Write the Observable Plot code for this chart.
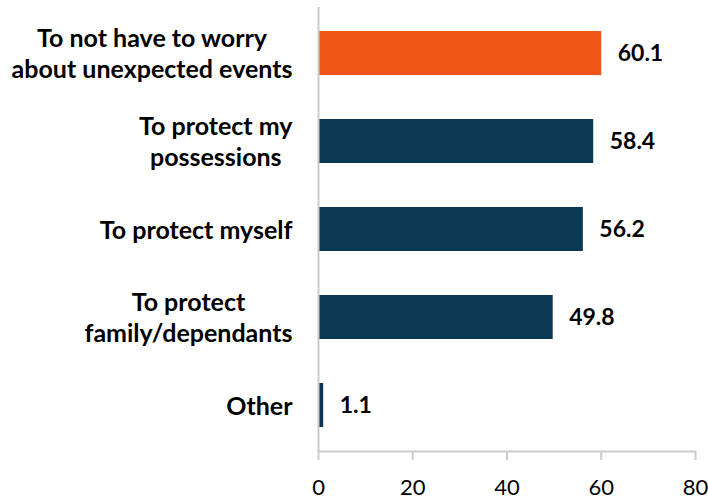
<!DOCTYPE html>
<html>
<head>
<meta charset="utf-8">
<script src="https://cdn.jsdelivr.net/npm/d3@7"></script>
<script src="https://cdn.jsdelivr.net/npm/@observablehq/plot@0.6"></script>
<style>
  html, body { margin: 0; padding: 0; background: #fff; }
  svg { display: block; }
</style>
</head>
<body>
<div id="chart"></div>
<script>
const categories = [
  "To not have to worry\nabout unexpected events",
  "To protect my\npossessions",
  "To protect myself",
  "To protect\nfamily/dependants",
  "Other"
];
const values = [60.1, 58.4, 56.2, 49.8, 1.1];
const xTicks = [0, 20, 40, 60, 80];
const highlight = categories[0];

const data = categories.map((c, i) => ({cat: c, value: values[i]}));

const FONT = "Lato, 'Open Sans', sans-serif";
const LABEL_SIZE = 25;
const ctx = document.createElement("canvas").getContext("2d");
ctx.font = `bold ${LABEL_SIZE}px Lato`;
const widest = s => Math.max(...s.split("\n").map(l => ctx.measureText(l).width));

const labelMarks = categories.map(c => Plot.text([c], {
  y: d => d,
  text: d => d,
  frameAnchor: "left",
  textAnchor: "middle",
  lineAnchor: "middle",
  lineHeight: 1.25,
  dx: -26 - widest(c) / 2,
  dy: -1,
  fontWeight: "bold",
  fontSize: LABEL_SIZE,
  fill: "#000"
}));

const chart = Plot.plot({
  width: 708,
  height: 501,
  marginLeft: 318,
  marginRight: 13,
  marginTop: 7,
  marginBottom: 50,
  style: {fontFamily: FONT, background: "#fff"},
  x: {domain: [0, 80], ticks: xTicks},
  y: {domain: categories, paddingInner: 0.5, paddingOuter: 0.25, axis: null},
  marks: [
    Plot.barX(data, {
      x: "value",
      y: "cat",
      fill: d => d.cat === highlight ? "#F15417" : "#0B3954"
    }),
    Plot.text(data, {
      x: "value",
      y: "cat",
      text: d => d.value.toFixed(1),
      dx: 16,
      textAnchor: "start",
      fontWeight: "bold",
      fontSize: 23,
      fill: "#000"
    }),
    Plot.ruleX([0], {stroke: "#CCCCCC", strokeWidth: 2}),
    Plot.frame({anchor: "bottom", stroke: "#CCCCCC", strokeWidth: 2}),
    Plot.axisX({
      ticks: xTicks,
      tickSize: 9,
      tickPadding: 19,
      fontSize: 22,
      stroke: "#CCCCCC",
      strokeWidth: 2,
      fill: "#000",
      label: null
    }),
    ...labelMarks
  ]
});
document.getElementById("chart").append(chart);
</script>
</body>
</html>
